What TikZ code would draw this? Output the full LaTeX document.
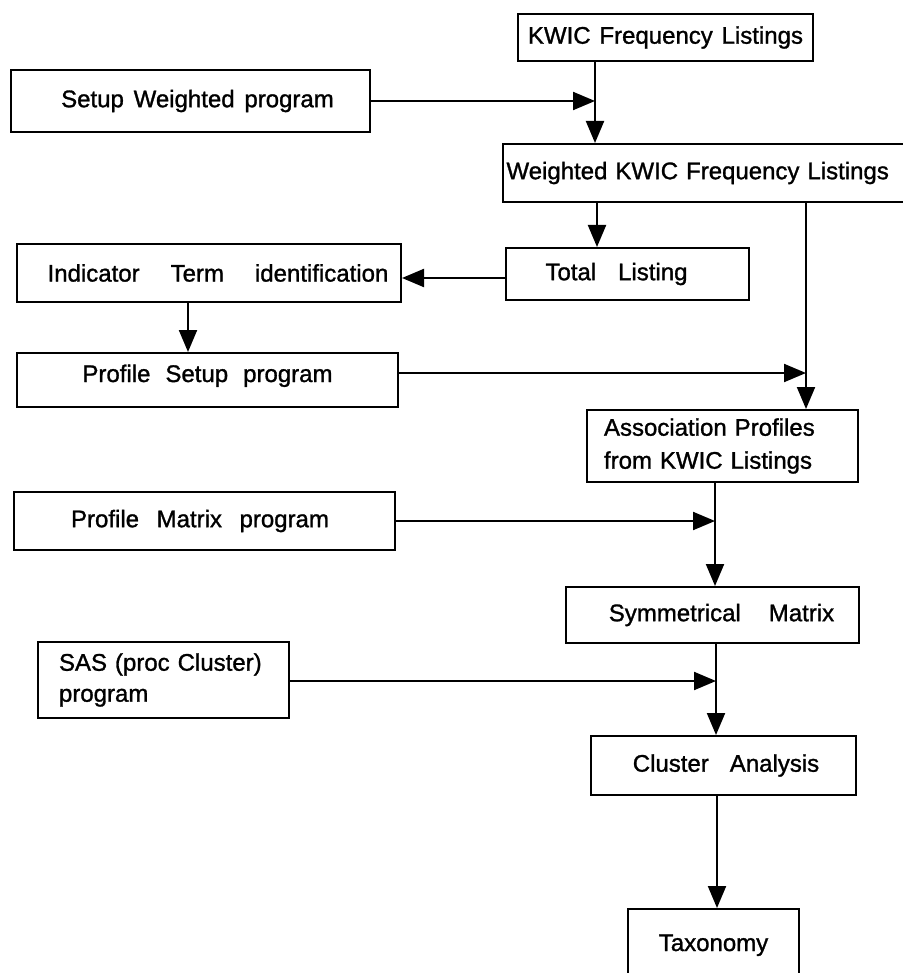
\documentclass[tikz,border=0pt]{standalone}
\usepackage{fontspec}
\setmainfont{Liberation Sans}[FakeBold=1.2]
\usetikzlibrary{arrows.meta}
\newcommand\flowfont{\fontsize{24}{33}\selectfont}
\begin{document}
\begin{tikzpicture}[x=1pt,y=-1pt,
  box/.style={draw, line width=2pt, inner xsep=4pt, inner ysep=0pt,
    anchor=north west, font=\flowfont},
  ws/.style={font={\flowfont\spaceskip=#1\relax}},
  pushr/.style={execute at begin node={\hspace*{#1}}},
  pushl/.style={execute at end node={\hspace*{#1}}},
  arr/.style={line width=2.1pt, -{Triangle[length=22pt,width=18pt]}}]
\useasboundingbox (0,0) rectangle (902,973);

% boxes
\node[box, ws=8.8pt, minimum width=295pt, minimum height=47pt] (kwic) at (517,13)
  {KWIC Frequency Listings};
\node[box, ws=9.8pt, pushr=14pt, minimum width=359pt, minimum height=62pt] (setupw) at (10,69)
  {Setup Weighted program};
\node[box, ws=11pt, inner xsep=3.5pt, text width=433pt, align=left, minimum height=58pt] (weighted) at (502,143)
  {Weighted KWIC Frequency Listings};
\node[box, ws=22pt, pushl=22pt, minimum width=243pt, minimum height=52pt] (total) at (505,247)
  {Total Listing};
\node[box, ws=31pt, pushr=18pt, minimum width=384pt, minimum height=58pt] (indicator) at (16,243)
  {Indicator Term identification};
\node[box, ws=15pt, minimum width=381pt, text height=29pt, text depth=25pt] (profile) at (16,352)
  {Profile Setup program};
\node[box, ws=13pt, inner xsep=17pt, text width=237pt, align=left, minimum height=72pt] (assoc) at (586,409)
  {Association Profiles\\from KWIC Listings};
\node[box, ws=17.6pt, pushl=9pt, minimum width=381pt, minimum height=58pt] (pmatrix) at (13,491)
  {Profile Matrix program};
\node[box, ws=28pt, pushr=18pt, minimum width=293pt, minimum height=56pt] (symm) at (565,586)
  {Symmetrical Matrix};
\node[box, inner xsep=21pt, text width=209pt, align=left, minimum height=76pt,
  font={\fontsize{24}{31}\selectfont\spaceskip=9pt\relax}] (sas) at (37,641)
  {SAS (proc Cluster)\\program};
\node[box, ws=21pt, pushr=5pt, minimum width=265pt, minimum height=59pt] (cluster) at (590,735)
  {Cluster Analysis};
\node[box, minimum width=171pt, text height=42pt, text depth=40pt] (taxonomy) at (627,908)
  {Taxonomy};

% x positions of the vertical flow lines
\coordinate (xa) at (595,0);
\coordinate (xb) at (597,0);
\coordinate (xc) at (806,0);
\coordinate (xd) at (188,0);
\coordinate (xe) at (715,0);
\coordinate (xf) at (716,0);
\coordinate (xg) at (717,0);

% connectors
\draw[arr] (kwic.south -| xa) -- (weighted.north -| xa);
\draw[arr] (setupw.east) -- (setupw.east -| xa);
\draw[arr] (weighted.south -| xb) -- (total.north -| xb);
\draw[arr] ([yshift=-4pt]total.west) -- ([yshift=-4pt]total.west -| indicator.east);
\draw[arr] (indicator.south -| xd) -- (profile.north -| xd);
\draw[arr] (weighted.south -| xc) -- (assoc.north -| xc);
\draw[arr] ([yshift=7pt]profile.east) -- ([yshift=7pt]profile.east -| xc);
\draw[arr] (assoc.south -| xe) -- (symm.north -| xe);
\draw[arr] (pmatrix.east) -- (pmatrix.east -| xe);
\draw[arr] (symm.south -| xf) -- (cluster.north -| xf);
\draw[arr] ([yshift=-1pt]sas.east) -- ([yshift=-1pt]sas.east -| xf);
\draw[arr] (cluster.south -| xg) -- (taxonomy.north -| xg);
\end{tikzpicture}
\end{document}
